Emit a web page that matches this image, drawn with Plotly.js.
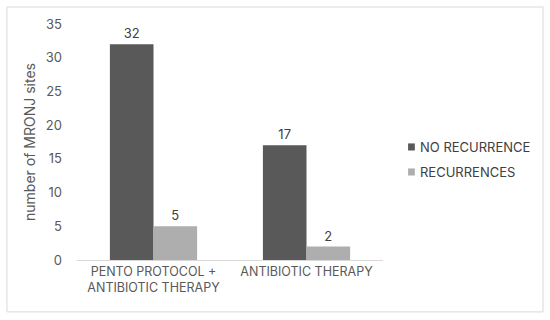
<!DOCTYPE html>
<html><head><meta charset="utf-8">
<script src="https://cdn.plot.ly/plotly-3.0.1.min.js"></script>
<style>html,body{margin:0;padding:0;background:#fff}#chart{width:550px;height:320px}</style>
</head><body><div id="chart"></div>
<script>
const categories = ["PENTO PROTOCOL +<br>ANTIBIOTIC THERAPY", "ANTIBIOTIC THERAPY"];
const noRecurrence = [32, 17];
const recurrences = [5, 2];
const seriesNames = ["NO RECURRENCE", "RECURRENCES"];
const seriesColors = ["#595959", "#aeaeae"];
const yTicks = [0, 5, 10, 15, 20, 25, 30, 35];

const font = {family: "Inter, 'Liberation Sans', sans-serif", color: "#595959", size: 12};
const traces = [
  {type: "bar", name: seriesNames[0], x: categories, y: noRecurrence, marker: {color: seriesColors[0]},
   text: noRecurrence.map(String), textposition: "outside", cliponaxis: false,
   textfont: {color: "#404040", size: 13}},
  {type: "bar", name: seriesNames[1], x: categories, y: recurrences, marker: {color: seriesColors[1]},
   text: recurrences.map(String), textposition: "outside", cliponaxis: false,
   textfont: {color: "#404040", size: 13}}
];

// manual legend (paper coordinates)
const legX = 1.082, legW = 0.022, legTextX = 1.115, legY = [0.479, 0.373], legH = 0.03;
const shapes = [{type: "rect", xref: "paper", yref: "paper", x0: -0.229, x1: 1.523, y0: -0.22, y1: 1.072,
            line: {color: "#d9d9d9", width: 1}, fillcolor: "rgba(0,0,0,0)"}];
const annotations = [];
seriesNames.forEach((n, i) => {
  shapes.push({type: "rect", xref: "paper", yref: "paper", x0: legX, x1: legX + legW,
    y0: legY[i] - legH / 2, y1: legY[i] + legH / 2, line: {width: 0}, fillcolor: seriesColors[i]});
  annotations.push({xref: "paper", yref: "paper", x: legTextX, y: legY[i], xanchor: "left", yanchor: "middle",
    text: n, showarrow: false, font: {size: 13, color: "#404040"}});
});

const layout = {
  width: 550, height: 320,
  margin: {l: 77, r: 167, t: 24, b: 60, autoexpand: false},
  font: font,
  paper_bgcolor: "#fff", plot_bgcolor: "#fff",
  barmode: "group", bargap: 0.43, bargroupgap: 0,
  showlegend: false,
  xaxis: {showline: true, linecolor: "#d9d9d9", linewidth: 1, ticks: "", tickfont: {size: 12.5, color: "#595959"}, fixedrange: true},
  yaxis: {range: [0, 35], tickvals: yTicks, showgrid: false, zeroline: false, showline: false,
          ticks: "", ticklabelstandoff: 14, tickfont: {size: 13, color: "#595959"},
          title: {text: "number of MRONJ sites", font: {size: 14, color: "#595959"}, standoff: 6}},
  shapes: shapes,
  annotations: annotations
};
Plotly.newPlot("chart", traces, layout, {displayModeBar: false, staticPlot: true});
</script></body></html>
